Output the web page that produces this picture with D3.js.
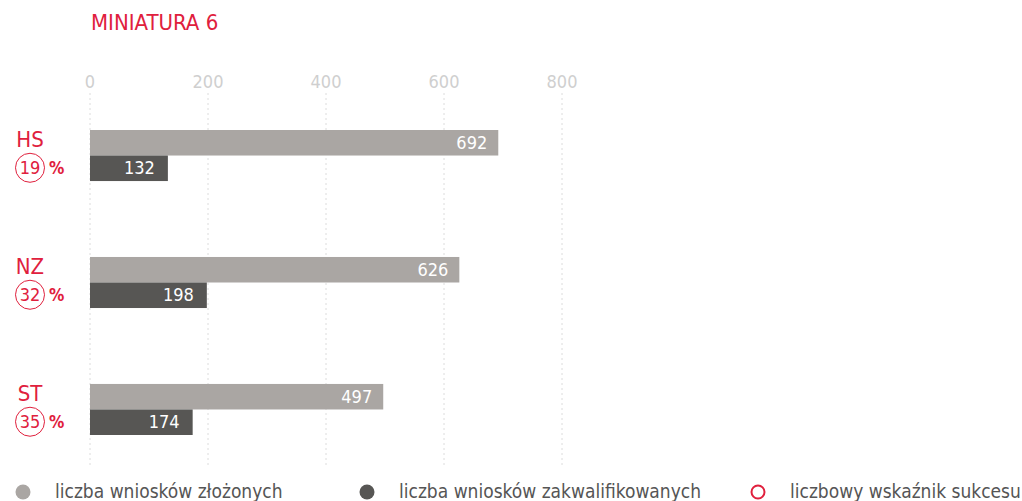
<!DOCTYPE html>
<html>
<head>
<meta charset="utf-8">
<script src="https://cdn.jsdelivr.net/npm/d3@7"></script>
<style>
  body { margin: 0; background: #fff; }
  svg { font-family: "Liberation Sans Narrow", "DejaVu Sans Condensed", sans-serif; }
</style>
</head>
<body>
<svg id="chart"></svg>
<script>
const categories = ["HS", "NZ", "ST"];
const submitted = [692, 626, 497];
const qualified = [132, 198, 174];
const successRate = [19, 32, 35];
const xTicks = [0, 200, 400, 600, 800];
const legendLabels = ["liczba wniosków złożonych", "liczba wniosków zakwalifikowanych", "liczbowy wskaźnik sukcesu"];

const red = "#e0203d", light = "#aaa6a3", dark = "#575654";

const svg = d3.select("#chart").attr("width", 1022).attr("height", 501);

svg.append("text")
    .attr("x", 91).attr("y", 30)
    .attr("fill", red).style("font-size", "22px")
    .text("MINIATURA 6");

const xScale = d3.scaleLinear().domain([0, 800]).range([90, 562]);
const yScale = d3.scaleBand().domain(categories).range([130, 435]).paddingInner(0.598).paddingOuter(0);

// grid
const grid = svg.append("g");
grid.selectAll("line").data(xTicks).join("line")
    .attr("x1", d => xScale(d)).attr("x2", d => xScale(d))
    .attr("y1", 93).attr("y2", 465)
    .attr("stroke", "#dcdcdc").attr("stroke-dasharray", "2,3");

svg.append("g").selectAll("text").data(xTicks).join("text")
    .attr("x", d => xScale(d)).attr("y", 88)
    .attr("text-anchor", "middle").attr("fill", "#cfcfcf")
    .style("font-size", "18px")
    .text(d => d);

const bh = yScale.bandwidth() / 2;

const rows = svg.append("g").selectAll("g").data(categories).join("g")
    .attr("transform", d => "translate(0," + yScale(d) + ")");

rows.append("rect")
    .attr("x", xScale(0)).attr("y", 0)
    .attr("width", (d, i) => xScale(submitted[i]) - xScale(0))
    .attr("height", bh).attr("fill", light);
rows.append("rect")
    .attr("x", xScale(0)).attr("y", bh)
    .attr("width", (d, i) => xScale(qualified[i]) - xScale(0))
    .attr("height", bh).attr("fill", dark);

rows.append("text")
    .attr("x", (d, i) => xScale(submitted[i]) - 11).attr("y", bh / 2 + 6)
    .attr("text-anchor", "end").attr("fill", "#fff")
    .style("font-size", "18px")
    .text((d, i) => submitted[i]);
rows.append("text")
    .attr("x", (d, i) => xScale(qualified[i]) - 13).attr("y", bh * 1.5 + 6)
    .attr("text-anchor", "end").attr("fill", "#fff")
    .style("font-size", "18px")
    .text((d, i) => qualified[i]);

// labels on the left
rows.append("text")
    .attr("x", 30).attr("y", 17)
    .attr("text-anchor", "middle").attr("fill", red)
    .style("font-size", "22px")
    .text(d => d);
rows.append("circle")
    .attr("cx", 30).attr("cy", bh * 1.5 - 0.5).attr("r", 14.5)
    .attr("fill", "none").attr("stroke", red).attr("stroke-width", 1);
rows.append("text")
    .attr("x", 30).attr("y", bh * 1.5 + 6)
    .attr("text-anchor", "middle").attr("fill", red)
    .style("font-size", "18px")
    .text((d, i) => successRate[i]);
rows.append("text")
    .attr("x", 49).attr("y", bh * 1.5 + 6)
    .attr("fill", red).style("font-size", "17px").style("font-weight", "bold")
    .text("%");

// legend
const legendX = [23, 367, 758];
const leg = svg.append("g").selectAll("g").data(legendLabels).join("g")
    .attr("transform", (d, i) => "translate(" + legendX[i] + ",492)");
leg.append("circle")
    .attr("r", (d, i) => i === 2 ? 6.5 : 7.5)
    .attr("fill", (d, i) => i === 0 ? light : i === 1 ? dark : "none")
    .attr("stroke", (d, i) => i === 2 ? red : "none")
    .attr("stroke-width", 2);
leg.append("text")
    .attr("x", 32).attr("y", 6)
    .attr("fill", "#555").style("font-size", "19px")
    .text(d => d);
</script>
</body>
</html>
